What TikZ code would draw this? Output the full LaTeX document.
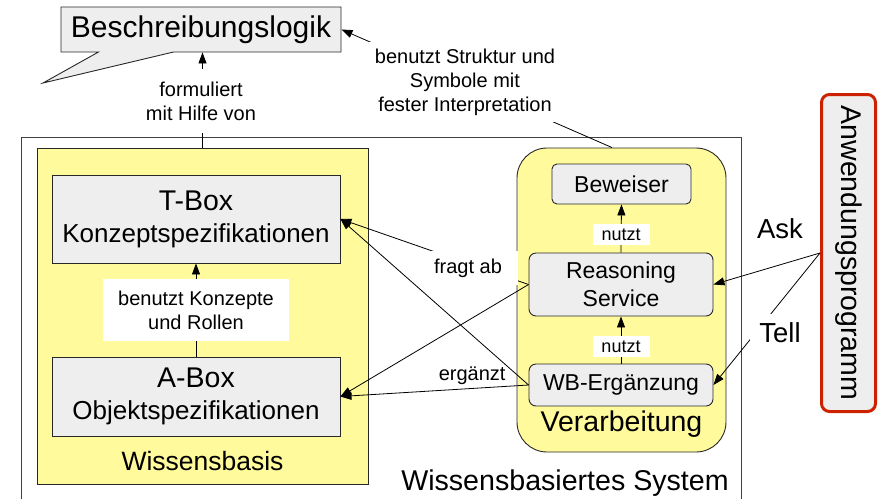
\documentclass[tikz,border=0pt]{standalone}
\usepackage{fontspec}
\usepackage{graphicx}
\setmainfont{Liberation Sans}
\usetikzlibrary{shapes.callouts,arrows.meta}

\definecolor{kbyellow}{RGB}{255,250,155}
\definecolor{boxgray}{RGB}{238,238,238}
\definecolor{appred}{RGB}{204,34,0}
\definecolor{edgegray}{RGB}{40,40,40}

\newcommand\fsz[2]{\fontsize{#1}{#2}\selectfont}

\begin{document}
\begin{tikzpicture}[x=1pt,y=-1pt,
  arr/.style={-{Triangle[length=11pt,width=8pt]}, line width=0.8pt},
  graybox/.style={draw=edgegray, line width=0.9pt, fill=boxgray, inner sep=0pt, align=center},
  container/.style={draw=edgegray, line width=0.9pt, fill=kbyellow, inner sep=0pt},
  lbl/.style={fill=white, align=center, font=\fsz{20}{24}, inner sep=0pt},
  nutztlbl/.style={fill=white, font=\fsz{18}{22}, minimum width=57pt, minimum height=21pt, inner sep=0pt},
]
\useasboundingbox (0,0) rectangle (881,499);

% frame of the knowledge based system (open at the bottom)
\draw[line width=0.8pt, draw=black!75] (21,499) |- (741,137) -- (741,499);
\node[font=\fsz{28.6}{32}] (syslbl) at (565,483) {Wissensbasiertes System};

% description logic callout
\node[rectangle callout, draw=edgegray, fill=boxgray, line width=0.9pt,
      minimum width=280pt, minimum height=45pt, inner sep=0pt,
      callout absolute pointer={(43,83)}, callout pointer width=75pt,
      font=\fsz{30}{34}] (beschr) at (201,29.5) {Beschreibungslogik};

% knowledge base
\node[container, minimum width=331pt, minimum height=336pt] (kb) at (202.5,316) {};
\node[font=\fsz{26.5}{30}] (kblbl) at (202.5,461.5) {Wissensbasis};
\node[graybox, minimum width=288pt, minimum height=88pt, font=\fsz{26}{32}] (tbox) at (196,219)
  {{\fsz{28.5}{32}T-Box}\\Konzeptspezifikationen};
\node[graybox, minimum width=288pt, minimum height=79pt, font=\fsz{26}{32}] (abox) at (196,396.5)
  {{\fsz{28.5}{32}A-Box}\\Objektspezifikationen};
\draw[arr] (abox.north) -- node[lbl, minimum width=186pt, minimum height=62pt] (konzlbl)
  {benutzt Konzepte\\und Rollen} (tbox.south);

% processing unit
\node[container, rounded corners=30pt, minimum width=209pt, minimum height=304pt] (proc) at (621.5,300) {};
\node[font=\fsz{28.5}{32}] (proclbl) at (621.5,423.7) {Verarbeitung};
\node[graybox, rounded corners=5pt, minimum width=139pt, minimum height=40pt, font=\fsz{23}{28}] (bew) at (621.5,184) {Beweiser};
\node[graybox, rounded corners=7pt, minimum width=184pt, minimum height=63pt, font=\fsz{23}{28}] (reas) at (621,284.5) {Reasoning\\Service};
\node[graybox, rounded corners=7pt, minimum width=184pt, minimum height=42pt, font=\fsz{23}{28}] (wbe) at (621,385) {WB-Ergänzung};
\draw[arr] (reas.north) -- node[nutztlbl, pos=0.38] (nutzt1) {nutzt} (bew.south);
\draw[arr] (wbe.north) -- node[nutztlbl, pos=0.36] (nutzt2) {nutzt} (reas.south);

% application program
\node[draw=appred, line width=3pt, fill=boxgray, rounded corners=8pt,
      minimum width=54pt, minimum height=317pt, inner sep=0pt,
      font=\fsz{28.5}{32}] (anw) at (848.5,253) {\rotatebox{-90}{Anwendungsprogramm}};

% relations between the processing unit and the knowledge base
\draw[arr] (reas.west) -- (tbox.east);
\draw[arr] (wbe.west) -- (tbox.east);
\draw[arr] (reas.west) -- (abox.east);
\draw[arr] (wbe.west) -- node[pos=0.3, above, inner sep=3pt, font=\fsz{20}{24}] (erglbl) {ergänzt} (abox.east);
\node[lbl, minimum width=100pt, minimum height=34pt] (fragt) at (468,268) {fragt ab};

% Ask / Tell interface
\draw[arr] (anw.west) -- (reas.east);
\draw[arr] (anw.west) -- (wbe.east);
\node[font=\fsz{27.5}{32}] (ask) at (780,229) {Ask};
\node[font=\fsz{27.5}{32}, fill=white, inner sep=9pt] (tell) at (780,333) {Tell};

% links to the description logic
\draw[arr] (kb.north) -- (kb.north |- beschr.south);
\node[lbl, inner xsep=6pt, inner ysep=13pt] (formlbl) at (201,101) {formuliert\\mit Hilfe von};
\draw[arr] ([xshift=-9.5pt]proc.north) -- (beschr.east);
\node[lbl, inner sep=7pt] (structlbl) at (465,82) {benutzt Struktur und\\Symbole mit\\fester Interpretation};
\end{tikzpicture}
\end{document}
